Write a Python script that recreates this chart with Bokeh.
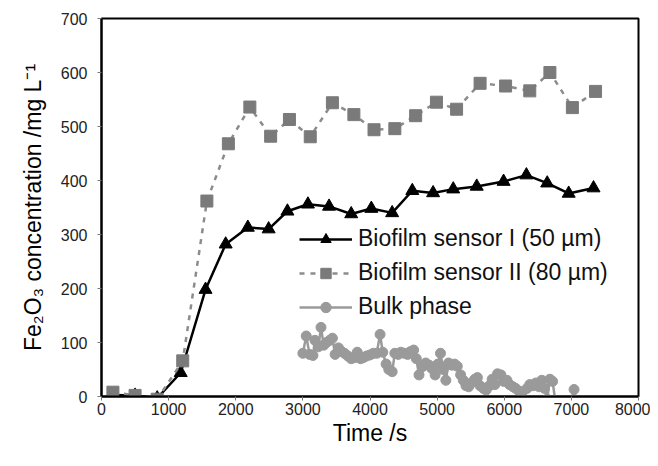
from bokeh.plotting import figure
from bokeh.models import Range1d, FixedTicker, Legend
from bokeh.embed import file_html
from bokeh.resources import INLINE

# Biofilm sensor I (50 µm)
s1_t = [150, 500, 830, 1180, 1550, 1850, 2180, 2490, 2770, 3075, 3390, 3720, 4020,
        4330, 4630, 4940, 5240, 5590, 5990, 6330, 6640, 6960, 7330]
s1_v = [3, 2, -3, 44, 198, 282, 313, 310, 343, 356, 352, 338, 348,
        340, 381, 377, 384, 389, 398, 410, 395, 376, 386]

# Biofilm sensor II (80 µm)
s2_t = [170, 500, 830, 1210, 1570, 1890, 2210, 2520, 2800, 3110, 3440, 3760, 4060,
        4370, 4680, 4990, 5290, 5640, 6020, 6380, 6680, 7015, 7360]
s2_v = [8, 2, -5, 66, 362, 468, 536, 482, 513, 481, 544, 522, 494,
        496, 520, 545, 532, 580, 575, 566, 600, 535, 565]

# Bulk phase
bk_t = [3000, 3050, 3100, 3150, 3180, 3230, 3270, 3310, 3350, 3400, 3440, 3480, 3530,
        3570, 3620, 3670, 3720, 3770, 3810, 3860, 3900, 3950, 4000, 4050, 4100, 4150,
        4190, 4240, 4280, 4330, 4370, 4420, 4460, 4510, 4560, 4600, 4650, 4690, 4730,
        4780, 4830, 4880, 4920, 4970, 5010, 5050, 5090, 5130, 5170, 5220, 5260, 5300,
        5350, 5390, 5430, 5470, 5510, 5560, 5600, 5640, 5690, 5730, 5780, 5820, 5860,
        5900, 5950, 5990, 6040, 6080, 6130, 6170, 6220, 6260, 6300, 6340, 6380, 6430,
        6470, 6520, 6560, 6600, 6640, 6680, 6720, 6760, 6990, 7040, 7080]
bk_v = [80, 112, 78, 76, 104, 92, 128, 95, 100, 104, 108, 78, 90,
        84, 80, 75, 70, 72, 82, 70, 72, 75, 77, 80, 80, 115,
        82, 60, 50, 46, 80, 78, 82, 80, 78, 83, 86, 70, 40,
        55, 62, 58, 52, 40, 60, 80, 50, 30, 62, 58, 60, 56,
        40, 30, 20, 18, 25, 32, 35, 20, 15, 12, 20, 32, 22,
        42, 40, 28, 30, 22, 18, 15, 10, 8, -5, 15, 22, 20,
        25, 18, 30, 15, -5, 32, 28, -8, -10, 13, -10]

x_ticks = [0, 1000, 2000, 3000, 4000, 5000, 6000, 7000, 8000]
y_ticks = [0, 100, 200, 300, 400, 500, 600, 700]

FONT = "Liberation Sans"

p = figure(width=650, height=450, output_backend="svg", toolbar_location=None,
           x_range=Range1d(0, 8000), y_range=Range1d(0, 700),
           min_border_left=101, min_border_right=12, min_border_top=18, min_border_bottom=54)
p.xgrid.visible = False
p.ygrid.visible = False
p.outline_line_color = "black"
p.outline_line_width = 2
p.background_fill_color = "white"
p.border_fill_color = "white"

for ax in (p.xaxis[0], p.yaxis[0]):
    ax.axis_line_color = "black"
    ax.axis_line_width = 2
    ax.major_tick_line_color = "#777777"
    ax.major_tick_in = 0
    ax.major_tick_out = 4
    ax.minor_tick_line_color = None
    ax.major_label_text_font = FONT
    ax.major_label_text_font_size = "16px"
    ax.major_label_text_color = "#222222"
    ax.axis_label_text_font = FONT
    ax.axis_label_text_font_size = "23px"
    ax.axis_label_text_font_style = "normal"
    ax.axis_label_text_color = "black"

p.xaxis.ticker = FixedTicker(ticks=x_ticks)
p.yaxis.ticker = FixedTicker(ticks=y_ticks)
p.xaxis.axis_label = "Time /s"
p.yaxis.axis_label = "Fe\u2082O\u2083 concentration /mg L\u207b\u00b9"
p.xaxis.major_label_standoff = 2
p.xaxis.axis_label_standoff = 2
p.yaxis.major_label_standoff = 10
p.yaxis.axis_label_standoff = 12

r1l = p.line(s1_t, s1_v, line_color="black", line_width=2.5)
r1m = p.scatter(s1_t, s1_v, marker="triangle", size=13, fill_color="black", line_color="black")
r2l = p.line(s2_t, s2_v, line_color="#8c8c8c", line_width=2.5, line_dash="5 6")
r2m = p.scatter(s2_t, s2_v, marker="square", size=12, fill_color="#7a7a7a", line_color="#7a7a7a")
r3l = p.line(bk_t, bk_v, line_color="#9a9a9a", line_width=2.5)
r3m = p.scatter(bk_t, bk_v, marker="circle", size=10, fill_color="#9a9a9a", line_color="#9a9a9a")

legend = Legend(items=[
    ("Biofilm sensor I (50 \u00b5m)", [r1l, r1m]),
    ("Biofilm sensor II (80 \u00b5m)", [r2l, r2m]),
    ("Bulk phase", [r3l, r3m]),
], location=(198, 76))
legend.label_text_font = FONT
legend.label_text_font_size = "23px"
legend.label_text_color = "#111111"
legend.glyph_width = 53
legend.glyph_height = 26
legend.label_height = 26
legend.spacing = 7
legend.padding = 0
legend.margin = 0
legend.label_standoff = 6
legend.border_line_color = None
legend.background_fill_alpha = 0
p.add_layout(legend, "center")

open("out.html", "w").write(file_html(p, INLINE))
